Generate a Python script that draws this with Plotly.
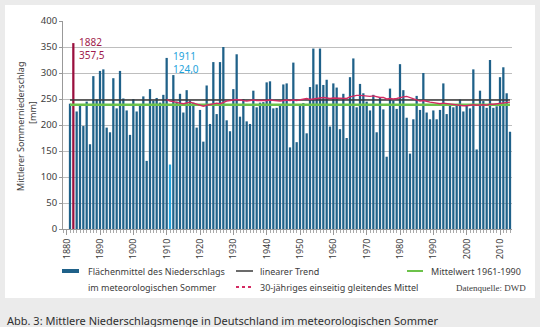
import plotly.graph_objects as go

# ---------------- data ----------------
years = list(range(1881, 2014))
precip = [
    241, 357.5, 226, 237, 198, 245, 163, 294, 249,          # 1881-1889
    304, 307, 195, 186, 290, 232, 304, 251, 228, 181,       # 1890-1899
    250, 226, 237, 255, 131, 269, 247, 252, 243, 258,       # 1900-1909
    329, 124.0, 296, 245, 260, 224, 267, 247, 243, 195,     # 1910-1919
    229, 168, 276, 202, 321, 221, 321, 350, 209, 188,       # 1920-1929
    269, 336, 216, 250, 207, 202, 266, 234, 243, 244,       # 1930-1939
    282, 284, 232, 233, 238, 278, 280, 157, 320, 167,       # 1940-1949
    238, 242, 184, 273, 347, 278, 347, 277, 287, 197,       # 1950-1959
    280, 272, 192, 260, 175, 292, 328, 234, 279, 261,       # 1960-1969
    245, 228, 258, 186, 253, 230, 139, 270, 247, 231,       # 1970-1979
    317, 267, 214, 145, 211, 256, 229, 300, 224, 211,       # 1980-1989
    228, 211, 229, 280, 221, 238, 234, 240, 249, 226,       # 1990-1999
    240, 232, 307, 153, 266, 246, 233, 325, 233, 236,       # 2000-2009
    292, 311, 261, 187,                                     # 2010-2013
]
highlight_max_year = 1882
highlight_min_year = 1911

trend_years = [1881, 2013]
trend_vals = [248, 248]

mean_years = [1881, 2013]
mean_vals = [239, 239]

ma_years = list(range(1910, 2014))
ma_vals = [
    249, 246, 245, 243, 242, 241, 243, 244, 242, 240,   # 1910-1919
    238, 236, 238, 239, 241, 242, 241, 244, 246, 247,   # 1920-1929
    248, 249, 248, 247, 246, 247, 248, 247, 247, 246,   # 1930-1939
    247, 248, 247, 246, 246, 247, 248, 247, 248, 247,   # 1940-1949
    248, 249, 251, 249, 250, 252, 253, 253, 252, 251,   # 1950-1959
    252, 252, 251, 252, 251, 254, 256, 257, 257, 256,   # 1960-1969
    255, 255, 256, 254, 253, 253, 250, 251, 250, 251,   # 1970-1979
    253, 254, 255, 253, 250, 248, 246, 247, 245, 244,   # 1980-1989
    243, 242, 241, 242, 241, 240, 239, 239, 238, 237,   # 1990-1999
    237, 238, 239, 238, 239, 239, 238, 240, 240, 241,   # 2000-2009
    242, 243, 244, 244,                                 # 2010-2013
]

x_ticks = list(range(1880, 2011, 10))
y_ticks = list(range(0, 401, 50))

# ---------------- styling ----------------
BAR = "#1f6189"
RED_BAR = "#9a0f3e"
LIGHT_BAR = "#22a3dc"
RED_TXT = "#a01a4c"
BLUE_TXT = "#1ea3dc"
TREND = "#3a3a3a"
GREEN = "#6cc24a"
MA = "#d42a62"
FONT = "Noto Sans"
TXT = "#3c3c3c"

W_, H_ = 540, 327
L, R, T, B = 63, 512, 21, 229
PW, PH = R - L, B - T


def px(x):
    return (x - L) / PW


def py(y):
    return (B - y) / PH


colors = []
for yr in years:
    if yr == highlight_max_year:
        colors.append(RED_BAR)
    elif yr == highlight_min_year:
        colors.append(LIGHT_BAR)
    else:
        colors.append(BAR)

fig = go.Figure()
fig.add_trace(go.Bar(x=years, y=precip, marker=dict(color=colors, line=dict(width=0)),
                     width=0.68, showlegend=False, hoverinfo="x+y"))
fig.add_trace(go.Scatter(x=mean_years, y=mean_vals, mode="lines",
                         line=dict(color=GREEN, width=2.6), showlegend=False))
fig.add_trace(go.Scatter(x=trend_years, y=trend_vals, mode="lines",
                         line=dict(color=TREND, width=1.4), showlegend=False))
fig.add_trace(go.Scatter(x=ma_years, y=ma_vals, mode="lines",
                         line=dict(color=MA, width=1.4), showlegend=False))

shapes = []
annotations = []

# white panel behind chart and legend
shapes.append(dict(type="rect", xref="paper", yref="paper", layer="below",
                   x0=px(5), x1=px(535), y0=py(298), y1=py(5),
                   fillcolor="white", line=dict(width=0)))

# extreme value labels
i_max = years.index(highlight_max_year)
i_min = years.index(highlight_min_year)
for yr, val, col, shift, ys in [
    (highlight_max_year, precip[i_max], RED_TXT, 4, (42.5, 55.5)),
    (highlight_min_year, precip[i_min], BLUE_TXT, 1, (56.5, 69.5)),
]:
    annotations.append(dict(x=yr, xref="x", y=py(ys[0]), yref="paper", text=str(yr),
                            xanchor="left", yanchor="middle", xshift=shift, showarrow=False,
                            font=dict(family=FONT, size=10, color=col)))
    annotations.append(dict(x=yr, xref="x", y=py(ys[1]), yref="paper",
                            text=f"{val:.1f}".replace(".", ","),
                            xanchor="left", yanchor="middle", xshift=shift, showarrow=False,
                            font=dict(family=FONT, size=10, color=col)))

# y-axis title (two lines)
annotations.append(dict(x=px(20), y=py(127), xref="paper", yref="paper",
                        text="Mittlerer Sommerniederschlag", textangle=-90, showarrow=False,
                        xanchor="center", yanchor="middle",
                        font=dict(family=FONT, size=9, color=TXT)))
annotations.append(dict(x=px(32), y=py(113), xref="paper", yref="paper",
                        text="[mm]", textangle=-90, showarrow=False,
                        xanchor="center", yanchor="middle",
                        font=dict(family=FONT, size=9, color=TXT)))

# legend (drawn manually)
LY1, LY2 = 271, 287
shapes.append(dict(type="rect", xref="paper", yref="paper", x0=px(62), x1=px(79),
                   y0=py(LY1 + 2), y1=py(LY1 - 2), fillcolor=BAR, line=dict(width=0)))
shapes.append(dict(type="line", xref="paper", yref="paper", x0=px(236), x1=px(253),
                   y0=py(LY1), y1=py(LY1), line=dict(color=TREND, width=1.5)))
shapes.append(dict(type="line", xref="paper", yref="paper", x0=px(236), x1=px(253),
                   y0=py(LY2), y1=py(LY2), line=dict(color=MA, width=2, dash="dot")))
shapes.append(dict(type="line", xref="paper", yref="paper", x0=px(407), x1=px(423),
                   y0=py(LY1), y1=py(LY1), line=dict(color=GREEN, width=2)))

legend_texts = [
    (85.5, LY1, "Flächenmittel des Niederschlags"),
    (85.5, LY2, "im meteorologischen Sommer"),
    (258, LY1, "linearer Trend"),
    (258, LY2, "30-jähriges einseitig gleitendes Mittel"),
    (429, LY1, "Mittelwert 1961-1990"),
]
for x, y, t in legend_texts:
    annotations.append(dict(x=px(x), y=py(y), xref="paper", yref="paper", text=t,
                            xanchor="left", yanchor="middle", showarrow=False,
                            font=dict(family=FONT, size=9, color=TXT)))
annotations.append(dict(x=px(528), y=py(288), xref="paper", yref="paper",
                        text="Datenquelle: DWD", xanchor="right", yanchor="middle",
                        showarrow=False,
                        font=dict(family="Liberation Serif", size=9, color=TXT)))

# caption
annotations.append(dict(x=px(5), y=py(320), xref="paper", yref="paper",
                        text="Abb. 3: Mittlere Niederschlagsmenge in Deutschland im meteorologischen Sommer",
                        xanchor="left", yanchor="middle", showarrow=False,
                        font=dict(family=FONT, size=11, color="#2e2e2e")))

fig.update_layout(
    width=W_, height=H_,
    margin=dict(l=L, r=W_ - R, t=T, b=H_ - B, pad=0),
    paper_bgcolor="#ebebeb",
    plot_bgcolor="white",
    bargap=0.3,
    shapes=shapes,
    annotations=annotations,
    font=dict(family=FONT, size=9, color=TXT),
    xaxis=dict(range=[1878.9, 2013.6], tickvals=x_ticks, ticktext=[str(v) for v in x_ticks],
               tickangle=-90, ticks="outside", ticklen=5, tickcolor="#999",
               showline=True, linecolor="#999", linewidth=1, showgrid=False, zeroline=False,
               tickfont=dict(family=FONT, size=9, color=TXT),
               minor=dict(dtick=1, tick0=1880, ticks="outside", ticklen=3, tickcolor="#aaa",
                          showgrid=False)),
    yaxis=dict(range=[0, 400], tickvals=y_ticks, ticks="outside", ticklen=3, tickcolor="#999",
               showline=True, linecolor="#999", linewidth=1, layer="above traces",
               showgrid=True, gridcolor="rgba(110,110,110,0.45)", gridwidth=1, zeroline=False,
               tickfont=dict(family=FONT, size=9.5, color=TXT)),
)

fig.write_html("out.html")
